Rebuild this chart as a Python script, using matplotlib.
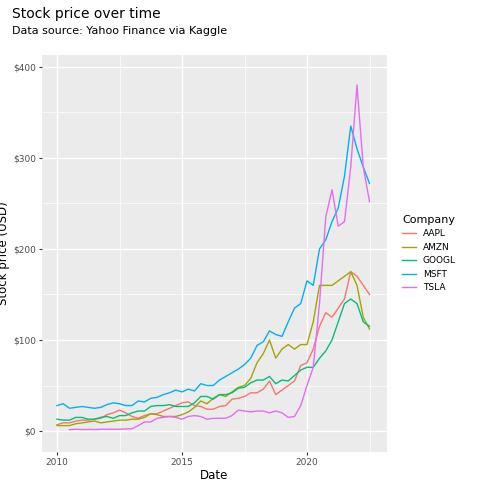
import matplotlib.pyplot as plt
import numpy as np
from matplotlib.ticker import FuncFormatter

# quarterly sample points, 2010.0 .. 2022.5
dates = np.arange(2010.0, 2022.51, 0.25)

aapl = [7, 9, 9, 11, 12, 12, 13, 14, 18, 20, 23, 20, 16, 14, 17, 19, 19, 22, 25, 28,
        31, 32, 28, 27, 24, 24, 27, 28, 35, 36, 38, 42, 42, 46, 55, 40, 45, 50, 55, 72,
        75, 90, 115, 130, 125, 135, 145, 175, 170, 160, 150]
amzn = [6, 6, 6, 8, 9, 10, 11, 9, 10, 11, 12, 12, 13, 13, 15, 19, 18, 16, 16, 16,
        18, 21, 26, 33, 30, 36, 40, 38, 43, 48, 50, 58, 75, 85, 100, 80, 90, 95, 90, 95,
        95, 120, 160, 160, 160, 165, 170, 175, 160, 125, 112]
googl = [13, 12, 12, 15, 15, 13, 13, 15, 16, 14, 17, 17, 20, 22, 22, 27, 28, 28, 29, 27,
         27, 27, 31, 38, 38, 35, 40, 40, 42, 47, 48, 53, 56, 56, 60, 52, 56, 55, 61, 67,
         70, 70, 80, 88, 100, 120, 140, 145, 140, 120, 115]
msft = [28, 30, 25, 26, 27, 26, 25, 26, 29, 31, 30, 28, 28, 33, 32, 36, 37, 40, 42, 45,
        43, 46, 44, 52, 50, 50, 56, 60, 64, 68, 73, 80, 94, 98, 110, 106, 104, 120, 135, 140,
        165, 160, 200, 210, 230, 245, 280, 335, 310, 290, 272]
tsla_dates = dates[2:]
tsla = [1.5, 2, 1.7, 1.8, 1.7, 2, 2, 2, 2, 2.3, 2.5, 6, 10, 10, 14, 15, 16, 15,
        13, 16, 17, 16, 13, 14, 14, 14, 17, 23, 22, 21, 22, 22, 20, 22, 20, 15, 16, 28,
        50, 70, 140, 235, 265, 225, 230, 290, 380, 290, 252]

companies = ['AAPL', 'AMZN', 'GOOGL', 'MSFT', 'TSLA']
colors = ['#F8766D', '#A3A500', '#00BF7D', '#00B0F6', '#E76BF3']
series = [(dates, aapl), (dates, amzn), (dates, googl), (dates, msft), (tsla_dates, tsla)]

fig = plt.figure(figsize=(4.8, 4.8), dpi=100)
ax = fig.add_axes([42 / 480, 1 - 452 / 480, 345 / 480, 397 / 480])
ax.set_facecolor('#EBEBEB')
for (x, y), c, name in zip(series, colors, companies):
    ax.plot(x, y, color=c, lw=1.0, label=name)

ax.set_xlim(2009.4, 2023.2)
ax.set_ylim(-23, 413)
ax.set_xticks([2010, 2015, 2020])
ax.set_yticks([0, 100, 200, 300, 400])
ax.set_xticks([2012.5, 2017.5, 2022.5], minor=True)
ax.set_yticks([50, 150, 250, 350], minor=True)
ax.yaxis.set_major_formatter(FuncFormatter(lambda v, p: f'${v:.0f}'))
ax.grid(True, which='major', color='white', lw=1.0)
ax.grid(True, which='minor', color='white', lw=0.5)
ax.set_axisbelow(True)
for s in ax.spines.values():
    s.set_visible(False)
ax.tick_params(which='major', length=2.5, pad=2, color='#333333', labelsize=6.5, labelcolor='#4D4D4D')
ax.tick_params(which='minor', length=0)
ax.set_xlabel('Date', fontsize=8.5, labelpad=1)
ax.set_ylabel('Stock price (USD)', fontsize=8.5, labelpad=2)

fig.text(0.025, 0.985, 'Stock price over time', fontsize=10, va='top')
fig.text(0.025, 0.945, 'Data source: Yahoo Finance via Kaggle', fontsize=8, va='top')

leg = ax.legend(title='Company', loc='center left', bbox_to_anchor=(1.02, 0.5),
                frameon=False, fontsize=6.5, title_fontsize=8, handlelength=1.5)
leg._legend_box.align = 'left'

fig.savefig('out.png', dpi=100)
